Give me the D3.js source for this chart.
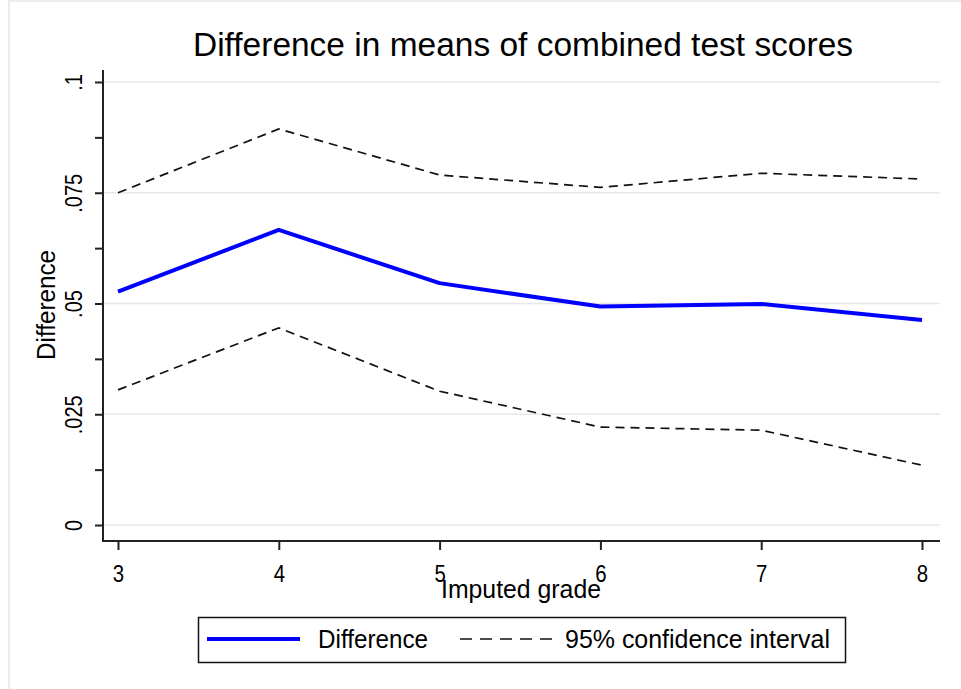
<!DOCTYPE html>
<html><head><meta charset="utf-8">
<script src="https://cdn.jsdelivr.net/npm/d3@7"></script>
<style>
body{margin:0;background:#fff}
svg text{font-family:Arial,"Liberation Sans",sans-serif;fill:#000}
</style>
</head><body>
<svg id="c" width="961" height="689"></svg>
<script>
const grades = [3, 4, 5, 6, 7, 8];
const difference = [0.0527, 0.0666, 0.0546, 0.0493, 0.0499, 0.0463];
const upperCI = [0.0750, 0.0894, 0.0790, 0.0762, 0.0794, 0.0781];
const lowerCI = [0.0305, 0.0445, 0.0302, 0.0221, 0.0214, 0.0135];
const yTicks = [0, 0.025, 0.05, 0.075, 0.1];
const yTickLabels = ["0", ".025", ".05", ".075", ".1"];
const yMinorTicks = [0.0125, 0.0375, 0.0625, 0.0875];
const xTicks = [3, 4, 5, 6, 7, 8];
const xTickLabels = ["3", "4", "5", "6", "7", "8"];
const titleText = "Difference in means of combined test scores";
const yTitle = "Difference";
const xTitle = "Imputed grade";
const legendLabels = ["Difference", "95% confidence interval"];

const svg = d3.select("#c");
const W = 961, H = 689;
const axisX = 103, axisY = 541, plotTop = 70, plotRight = 940;

// condense text horizontally (reference font is narrow)
function condense(sel, f) {
  sel.each(function () {
    const len = this.getComputedTextLength();
    d3.select(this).attr("textLength", len * f).attr("lengthAdjust", "spacingAndGlyphs");
  });
}
function fitWidth(sel, w) {
  sel.attr("textLength", w).attr("lengthAdjust", "spacingAndGlyphs");
}

svg.append("rect").attr("width", W).attr("height", H).attr("fill", "#fff");
svg.append("line").attr("x1", 9).attr("x2", W).attr("y1", 1).attr("y2", 1).attr("stroke", "#ececec").attr("stroke-width", 2);
svg.append("line").attr("x1", 9).attr("x2", 9).attr("y1", 0).attr("y2", H).attr("stroke", "#ececec").attr("stroke-width", 2);

const x = d3.scaleLinear().domain([3, 8]).range([118, 922]);
const y = d3.scaleLinear().domain([0, 0.1]).range([525, 82]);

// gridlines
svg.append("g").selectAll("line").data(yTicks).join("line")
  .attr("x1", axisX).attr("x2", plotRight)
  .attr("y1", d => y(d)).attr("y2", d => y(d))
  .attr("stroke", "#e8e8e8").attr("stroke-width", 1.5);

// y axis
const yAxis = svg.append("g").attr("transform", `translate(${axisX},0)`)
  .call(d3.axisLeft(y).tickValues(yTicks).tickSize(8).tickSizeOuter(0)
    .tickFormat((d, i) => yTickLabels[i]));
yAxis.select(".domain").remove();
yAxis.selectAll(".tick line").attr("stroke", "#222").attr("stroke-width", 2);
yAxis.selectAll(".tick text")
  .attr("transform", "rotate(-90)")
  .attr("x", 0).attr("y", -21).attr("dy", 0)
  .attr("text-anchor", "middle")
  .style("font-size", "23px").call(condense, 0.87);
const yMinor = svg.append("g").attr("transform", `translate(${axisX},0)`)
  .call(d3.axisLeft(y).tickValues(yMinorTicks).tickSize(8).tickFormat(""));
yMinor.select(".domain").remove();
yMinor.selectAll(".tick line").attr("stroke", "#222").attr("stroke-width", 2);
svg.append("line").attr("x1", axisX).attr("x2", axisX).attr("y1", plotTop).attr("y2", axisY + 1)
  .attr("stroke", "#222").attr("stroke-width", 2);

// x axis
const xAxis = svg.append("g").attr("transform", `translate(0,${axisY})`)
  .call(d3.axisBottom(x).tickValues(xTicks).tickSize(9).tickSizeOuter(0)
    .tickFormat((d, i) => xTickLabels[i]));
xAxis.select(".domain").remove();
xAxis.selectAll(".tick line").attr("stroke", "#222").attr("stroke-width", 2);
xAxis.selectAll(".tick text").attr("y", 41).attr("dy", 0)
  .style("font-size", "24px").call(condense, 0.85);
svg.append("line").attr("x1", axisX - 1).attr("x2", plotRight).attr("y1", axisY).attr("y2", axisY)
  .attr("stroke", "#222").attr("stroke-width", 2);

// lines
const line = d3.line().x((d, i) => x(grades[i])).y(d => y(d));
svg.append("path").attr("d", line(upperCI)).attr("fill", "none").attr("stroke", "#111")
  .attr("stroke-width", 1.7).attr("stroke-dasharray", "9,6");
svg.append("path").attr("d", line(lowerCI)).attr("fill", "none").attr("stroke", "#111")
  .attr("stroke-width", 1.7).attr("stroke-dasharray", "9,6");
svg.append("path").attr("d", line(difference)).attr("fill", "none").attr("stroke", "#0000ff")
  .attr("stroke-width", 4).attr("stroke-linejoin", "round");

// titles
svg.append("text").attr("x", 523).attr("y", 56).attr("text-anchor", "middle")
  .style("font-size", "34px").text(titleText).call(fitWidth, 660);
svg.append("text").attr("transform", "translate(55,305) rotate(-90)").attr("text-anchor", "middle")
  .style("font-size", "25px").text(yTitle).call(fitWidth, 110);
svg.append("text").attr("x", 521).attr("y", 598).attr("text-anchor", "middle")
  .style("font-size", "25px").text(xTitle).call(fitWidth, 160);

// legend
const lg = svg.append("g");
lg.append("rect").attr("x", 198.5).attr("y", 617.5).attr("width", 647).attr("height", 45)
  .attr("fill", "#fff").attr("stroke", "#111").attr("stroke-width", 1.5);
lg.append("line").attr("x1", 207).attr("x2", 300).attr("y1", 639).attr("y2", 639)
  .attr("stroke", "#0000ff").attr("stroke-width", 4);
lg.append("text").attr("x", 318).attr("y", 648).style("font-size", "25px")
  .text(legendLabels[0]).call(fitWidth, 110);
lg.append("line").attr("x1", 460).attr("x2", 555).attr("y1", 639).attr("y2", 639)
  .attr("stroke", "#111").attr("stroke-width", 1.7).attr("stroke-dasharray", "12,8");
lg.append("text").attr("x", 565).attr("y", 648).style("font-size", "25px")
  .text(legendLabels[1]).call(fitWidth, 265);
</script>
</body></html>
